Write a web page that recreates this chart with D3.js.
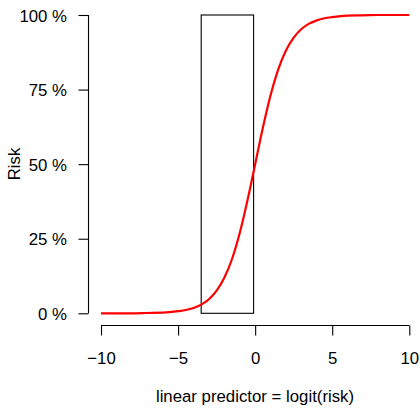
<!DOCTYPE html>
<html>
<head>
<meta charset="utf-8">
<script src="https://cdn.jsdelivr.net/npm/d3@7"></script>
<style>
  html, body { margin: 0; padding: 0; background: #fff; }
  svg { display: block; }
  text { font-family: "Liberation Sans", Arial, Helvetica, sans-serif; fill: #000; }
</style>
</head>
<body>
<svg id="chart" width="420" height="408"></svg>
<script>
// Data
const curveX = [-10, -9, -8, -7, -6, -5, -4.5, -4, -3.5, -3, -2.5, -2, -1.5, -1, -0.5, 0, 0.5, 1, 1.5, 2, 2.5, 3, 3.5, 4, 4.5, 5, 6, 7, 8, 9, 10];
const curveY = [0.000, 0.000, 0.000, 0.001, 0.002, 0.007, 0.011, 0.018, 0.029, 0.047, 0.076, 0.119, 0.182, 0.269, 0.378, 0.500, 0.622, 0.731, 0.818, 0.881, 0.924, 0.953, 0.971, 0.982, 0.989, 0.993, 0.998, 0.999, 1.000, 1.000, 1.000];
const boxX = [-3.5, -0.1];
const boxY = [0, 1];
const xTicks = [-10, -5, 0, 5, 10];
const yTicks = [0, 0.25, 0.5, 0.75, 1];
const yTickLabels = ["0 %", "25 %", "50 %", "75 %", "100 %"];
const xLabel = "linear predictor = logit(risk)";
const yLabel = "Risk";

const svg = d3.select("#chart");
const fontSize = 16.8;

const x = d3.scaleLinear().domain([-10, 10]).range([101, 409.3]);
const y = d3.scaleLinear().domain([0, 1]).range([313.3, 15]);

// Rectangle
svg.append("rect")
  .attr("x", x(boxX[0]))
  .attr("y", y(boxY[1]))
  .attr("width", x(boxX[1]) - x(boxX[0]))
  .attr("height", y(boxY[0]) - y(boxY[1]))
  .attr("fill", "none")
  .attr("stroke", "#000")
  .attr("stroke-width", 1.1);

// Curve
const pts = curveX.map((d, i) => [d, curveY[i]]);
svg.append("path")
  .datum(pts)
  .attr("fill", "none")
  .attr("stroke", "#ff0000")
  .attr("stroke-width", 2.2)
  .attr("d", d3.line().x(d => x(d[0])).y(d => y(d[1])).curve(d3.curveMonotoneX));

// X axis
const xAxisY = 325.5;
const gx = svg.append("g").attr("transform", `translate(0,${xAxisY})`)
  .call(d3.axisBottom(x).tickValues(xTicks).tickSize(10).tickSizeOuter(0)
    .tickFormat(d => d < 0 ? "\u2212" + Math.abs(d) : String(d)));
gx.select(".domain").attr("d", `M${x(-10)},0H${x(10)}`).attr("stroke", "#000").attr("stroke-width", 1.1);
gx.selectAll(".tick line").attr("stroke", "#000").attr("stroke-width", 1.1);
gx.selectAll(".tick text").attr("font-size", fontSize).attr("font-family", "Liberation Sans, Arial, sans-serif")
  .attr("y", 0).attr("dy", null).attr("transform", "translate(0,38.5)").attr("dominant-baseline", "auto");

// Y axis
const yAxisX = 88.5;
const gy = svg.append("g").attr("transform", `translate(${yAxisX},0)`)
  .call(d3.axisLeft(y).tickValues(yTicks).tickSize(10).tickSizeOuter(0)
    .tickFormat((d, i) => yTickLabels[i]));
gy.select(".domain").attr("d", `M0,${y(0)}V${y(1)}`).attr("stroke", "#000").attr("stroke-width", 1.1);
gy.selectAll(".tick line").attr("stroke", "#000").attr("stroke-width", 1.1);
gy.selectAll(".tick text").attr("font-size", fontSize).attr("font-family", "Liberation Sans, Arial, sans-serif")
  .attr("x", -21.5).attr("dy", "0.36em");

// Axis titles
svg.append("text")
  .attr("x", 255).attr("y", 402)
  .attr("text-anchor", "middle")
  .attr("font-size", fontSize)
  .text(xLabel);

svg.append("text")
  .attr("transform", `translate(20,164) rotate(-90)`)
  .attr("text-anchor", "middle")
  .attr("font-size", fontSize)
  .text(yLabel);
</script>
</body>
</html>
